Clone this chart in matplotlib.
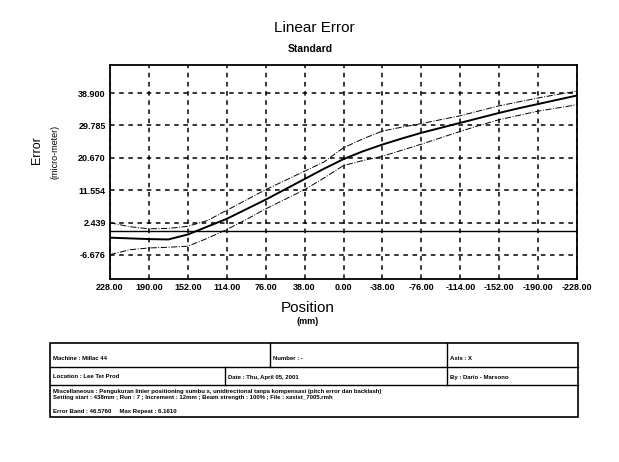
import matplotlib
matplotlib.use("Agg")
import matplotlib.pyplot as plt
from matplotlib.lines import Line2D
from matplotlib.patches import Rectangle

plt.rcParams['font.family'] = ['Liberation Sans', 'DejaVu Sans']

positions = [228, 209, 190, 171, 152, 133, 114, 95, 76, 57, 38, 19, 0,
             -19, -38, -57, -76, -95, -114, -133, -152, -171, -190, -209, -228]
mean_err = [-1.8, -2.0, -2.2, -2.3, -0.9, 1.3, 3.5, 6.2, 8.9, 11.8, 14.7, 17.6, 20.3,
            22.5, 24.4, 26.1, 27.7, 29.1, 30.5, 31.9, 33.3, 34.6, 35.8, 37.0, 38.2]
upper_err = [2.4, 1.3, 0.7, 0.8, 1.4, 3.0, 5.9, 8.8, 11.7, 14.3, 16.9, 19.5, 23.5,
             26.0, 28.2, 29.3, 30.3, 31.4, 32.5, 33.9, 35.3, 36.4, 37.5, 38.5, 39.4]
lower_err = [-6.6, -5.2, -4.7, -4.5, -4.2, -2.0, 0.5, 3.3, 6.3, 9.0, 11.7, 15.0, 18.5,
             19.9, 21.1, 22.8, 24.5, 26.3, 28.1, 29.8, 31.4, 32.6, 33.8, 34.7, 35.6]

xtick_values = [228, 190, 152, 114, 76, 38, 0, -38, -76, -114, -152, -190, -228]
xtick_labels = ["228.00", "190.00", "152.00", "114.00", "76.00", "38.00", "0.00",
                "-38.00", "-76.00", "-114.00", "-152.00", "-190.00", "-228.00"]
ytick_values = [-6.676, 2.439, 11.554, 20.670, 29.785, 38.900]
ytick_labels = ["-6.676", "2.439", "11.554", "20.670", "29.785", "38.900"]

fig = plt.figure(figsize=(6.19, 4.62), dpi=100)
W, H = 619, 462
ax = fig.add_axes([110 / W, 1 - 279 / H, (577 - 110) / W, (279 - 65) / H])

ax.plot(positions, mean_err, color='black', lw=1.4)
ax.plot(positions, upper_err, color='black', lw=0.7, ls='-.')
ax.plot(positions, lower_err, color='black', lw=0.7, ls='-.')
ax.axhline(0, color='black', lw=1.0)

ax.set_xlim(228, -228)
ax.set_ylim(-13.43, 46.78)
ax.set_xticks(xtick_values)
ax.set_xticklabels(xtick_labels, fontsize=6.5, fontweight='bold')
ax.set_yticks(ytick_values)
ax.set_yticklabels(ytick_labels, fontsize=6.5, fontweight='bold')
ax.tick_params(length=0, pad=3)
ax.grid(True, color='black', ls=(0, (3, 3)), lw=1.1)
for s in ax.spines.values():
    s.set_linewidth(1.3)

fig.text(314 / W, 1 - 28 / H, "Linear Error", ha='center', va='center', fontsize=11)
fig.text(310 / W, 1 - 49 / H, "Standard", ha='center', va='center', fontsize=7.5, fontweight='bold')
fig.text(308 / W, 1 - 308 / H, "Position", ha='center', va='center', fontsize=11)
fig.text(308 / W, 1 - 322 / H, "(mm)", ha='center', va='center', fontsize=6.5, fontweight='bold')
fig.text(37 / W, 1 - 150 / H, "Error", ha='center', va='center', fontsize=9, rotation=90)
fig.text(55 / W, 1 - 152 / H, "(micro-meter)", ha='center', va='center', fontsize=6.5, rotation=90)

# info table
def fx(x):
    return x / W

def fy(y):
    return 1 - y / H

left, right, top, bottom = 50, 578, 343, 417
r1, r2 = 367, 385
fig.add_artist(Rectangle((fx(left), fy(bottom)), fx(right) - fx(left), fy(top) - fy(bottom),
                         fill=False, lw=1.2, ec='black', transform=fig.transFigure))
for yy in (r1, r2):
    fig.add_artist(Line2D([fx(left), fx(right)], [fy(yy), fy(yy)], color='black', lw=1.0,
                          transform=fig.transFigure))
fig.add_artist(Line2D([fx(270), fx(270)], [fy(top), fy(r1)], color='black', lw=1.0, transform=fig.transFigure))
fig.add_artist(Line2D([fx(225), fx(225)], [fy(r1), fy(r2)], color='black', lw=1.0, transform=fig.transFigure))
fig.add_artist(Line2D([fx(447), fx(447)], [fy(top), fy(r2)], color='black', lw=1.0, transform=fig.transFigure))

tfs = 4.3
fig.text(fx(53), fy(358), "Machine : Millac 44", fontsize=tfs, fontweight='bold', va='center')
fig.text(fx(273), fy(358), "Number : -", fontsize=tfs, fontweight='bold', va='center')
fig.text(fx(450), fy(358), "Axis : X", fontsize=tfs, fontweight='bold', va='center')
fig.text(fx(53), fy(377), "Location : Lee Tet Prod", fontsize=tfs, fontweight='bold', va='center')
fig.text(fx(228), fy(377), "Date : Thu, April 05, 2001", fontsize=tfs, fontweight='bold', va='center')
fig.text(fx(450), fy(377), "By : Dario - Marsono", fontsize=tfs, fontweight='bold', va='center')
fig.text(fx(53), fy(391), "Miscellaneous : Pengukuran linier positioning sumbu x, unidirectional tanpa kompensasi (pitch error dan backlash)",
         fontsize=tfs, fontweight='bold', va='center')
fig.text(fx(53), fy(398), "Setting start : 438mm ; Run : 7 ; Increment : 12mm ; Beam strength : 100% ; File : xaxist_7005.rmh",
         fontsize=tfs, fontweight='bold', va='center')
fig.text(fx(53), fy(411), "Error Band : 46.5760     Max Repeat : 6.1610", fontsize=tfs, fontweight='bold', va='center')

fig.savefig("out.png", dpi=100)
